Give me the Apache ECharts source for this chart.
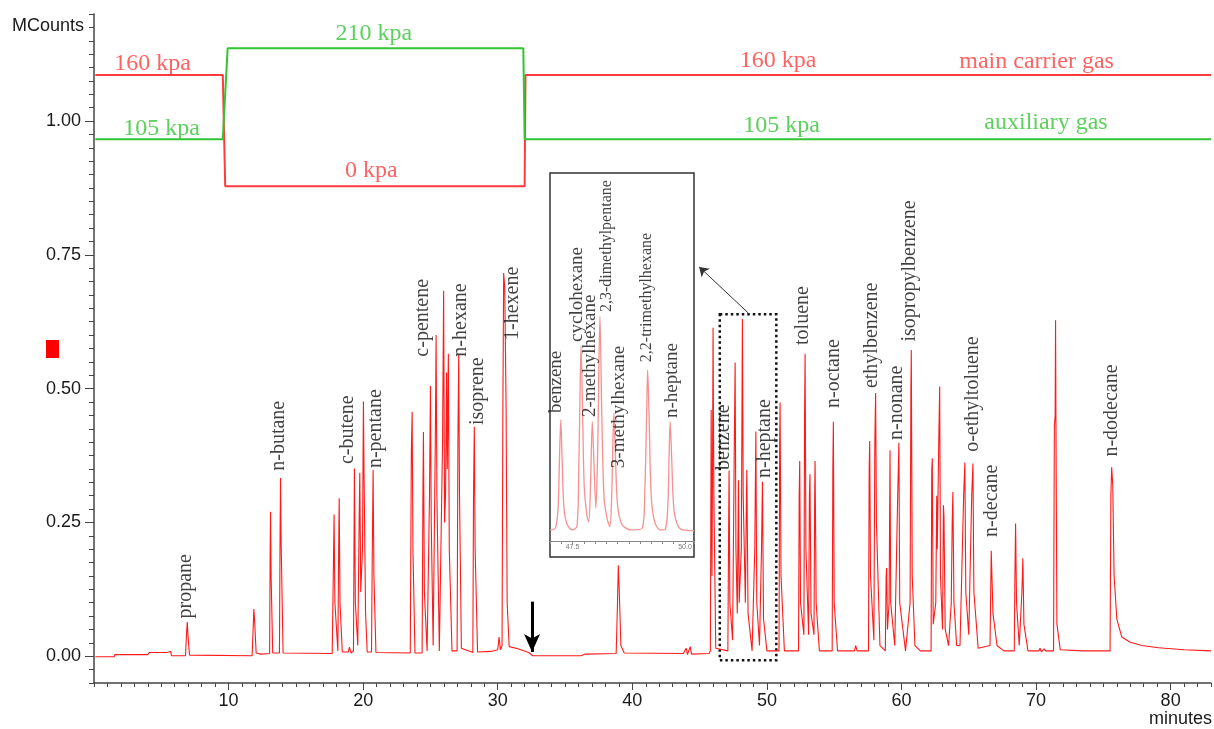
<!DOCTYPE html>
<html><head><meta charset="utf-8">
<script src="https://cdn.jsdelivr.net/npm/echarts@6/dist/echarts.min.js"></script>
<style>html,body{margin:0;padding:0;background:#fff}#c{width:1214px;height:729px}</style>
</head><body><div id="c"></div><script>
// ---- data ----
const xTickLabels = [10, 20, 30, 40, 50, 60, 70, 80];
const yTickLabels = [0, 0.25, 0.5, 0.75, 1.0];

// chromatogram trace [minutes, MCounts]
const chromatogram = [
 [0.1,-0.001],[1.5,-0.001],[1.55,0.003],[4.0,0.003],[4.1,0.007],[5.4,0.007],[5.5,0.009],[5.7,0.009],[5.75,0.001],
 [6.8,0.001],[6.88,0.045],[6.93,0.064],[6.98,0.04],[7.1,0.002],
 [11.75,0.001],[11.83,0.055],[11.88,0.088],[11.93,0.068],[12.05,0.006],
 [12.4,0.004],[13.05,0.005],[13.09,0.2],[13.12,0.27],[13.16,0.15],[13.28,0.006],
 [13.78,0.006],[13.82,0.2],[13.86,0.333],[13.9,0.22],[14.05,0.006],
 [17.7,0.005],[17.78,0.15],[17.84,0.265],[17.9,0.1],[18.12,0.01],[18.18,0.2],[18.22,0.295],[18.28,0.1],[18.45,0.008],
 [18.9,0.008],[18.98,0.017],[19.1,0.006],[19.28,0.01],[19.35,0.351],[19.42,0.1],[19.6,0.02],[19.7,0.25],[19.75,0.343],[19.82,0.12],[19.95,0.2],[20.02,0.476],[20.07,0.33],[20.18,0.08],[20.3,0.008],
 [20.62,0.008],[20.68,0.2],[20.74,0.348],[20.8,0.15],[20.95,0.007],
 [23.5,0.006],[23.58,0.38],[23.64,0.457],[23.7,0.2],[23.85,0.006],
 [24.38,0.006],[24.44,0.3],[24.48,0.419],[24.55,0.12],[24.75,0.01],
 [24.93,0.3],[25.0,0.505],[25.06,0.25],[25.2,0.02],[25.36,0.4],[25.42,0.6],[25.48,0.3],[25.66,0.01],
 [25.9,0.4],[25.98,0.683],[26.05,0.25],[26.12,0.3],[26.2,0.53],[26.25,0.35],[26.33,0.565],[26.4,0.2],[26.6,0.01],
 [26.98,0.01],[27.04,0.4],[27.1,0.564],[27.16,0.3],[27.3,0.015],
 [28.15,0.007],[28.2,0.3],[28.26,0.429],[28.32,0.2],[28.5,0.008],
 [29.5,0.009],[30.0,0.012],[30.1,0.036],[30.2,0.012],[30.32,0.02],[30.38,0.45],[30.44,0.716],[30.52,0.69],[30.62,0.47],[30.7,0.1],[30.85,0.018],
 [31.5,0.014],[32.3,0.007],[32.6,0.001],[36.2,0.001],[36.5,0.004],[38.8,0.005],[38.9,0.1],[38.96,0.17],[39.02,0.13],[39.15,0.02],[39.4,0.006],
 [43.8,0.005],[44.0,0.015],[44.1,0.003],[44.3,0.018],[44.4,0.004],[45.7,0.005],
 [45.8,0.01],[45.86,0.46],[45.92,0.15],[45.96,0.35],[46.0,0.614],[46.06,0.3],[46.2,0.015],
 [47.1,0.01],[47.16,0.25],[47.19,0.347],[47.25,0.1],[47.45,0.03],[47.58,0.4],[47.64,0.549],[47.7,0.2],[47.8,0.08],[47.86,0.25],[47.89,0.329],[47.94,0.1],[48.1,0.2],[48.18,0.63],[48.24,0.3],[48.4,0.1],[48.48,0.3],[48.51,0.348],[48.6,0.08],[48.9,0.01],
 [49.1,0.2],[49.18,0.42],[49.25,0.1],[49.45,0.02],[49.6,0.2],[49.67,0.326],[49.75,0.07],[50.0,0.01],
 [50.9,0.01],[50.95,0.4],[50.98,0.474],[51.05,0.15],[51.3,0.01],
 [52.35,0.01],[52.4,0.3],[52.44,0.365],[52.5,0.1],[52.75,0.04],[52.8,0.45],[52.84,0.565],[52.9,0.2],[53.1,0.04],[53.16,0.3],[53.2,0.34],[53.28,0.08],[53.5,0.04],[53.55,0.3],[53.58,0.365],[53.66,0.1],[53.9,0.01],
 [54.85,0.01],[54.9,0.35],[54.94,0.438],[55.0,0.1],[55.25,0.01],[56.5,0.01],[56.6,0.02],[56.7,0.01],[57.3,0.01],
 [57.55,0.01],[57.6,0.35],[57.64,0.402],[57.7,0.15],[57.95,0.03],[58.02,0.4],[58.08,0.492],[58.14,0.25],[58.4,0.02],
 [58.8,0.01],[58.86,0.15],[58.9,0.165],[58.96,0.05],[59.08,0.1],[59.15,0.385],[59.2,0.1],[59.5,0.02],[59.72,0.3],[59.81,0.399],[59.87,0.1],[60.3,0.01],
 [60.64,0.1],[60.7,0.5],[60.73,0.572],[60.8,0.15],[61.0,0.02],[61.4,0.01],
 [62.2,0.01],[62.25,0.35],[62.29,0.37],[62.36,0.06],[62.55,0.1],[62.62,0.3],[62.66,0.2],[62.77,0.4],[62.84,0.504],[62.9,0.15],[63.05,0.05],[63.12,0.282],[63.16,0.26],[63.25,0.05],[63.5,0.02],
 [63.7,0.1],[63.77,0.25],[63.82,0.307],[63.9,0.1],[64.1,0.02],[64.35,0.02],[64.62,0.3],[64.71,0.362],[64.78,0.12],[65.0,0.04],[65.22,0.3],[65.31,0.36],[65.38,0.12],[65.7,0.015],
 [66.58,0.02],[66.67,0.197],[66.8,0.08],[67.1,0.02],[67.6,0.01],
 [68.38,0.01],[68.43,0.15],[68.48,0.248],[68.55,0.1],[68.75,0.02],[68.95,0.12],[69.02,0.183],[69.1,0.06],[69.4,0.01],
 [70.2,0.01],[70.3,0.015],[70.4,0.008],[70.6,0.014],[70.7,0.01],
 [71.3,0.01],[71.36,0.43],[71.42,0.45],[71.45,0.628],[71.48,0.43],[71.55,0.06],[71.8,0.012],
 [73.5,0.01],[75.5,0.01],[75.56,0.3],[75.62,0.353],[75.7,0.32],[75.8,0.15],[76.0,0.07],[76.37,0.036],[77.0,0.026],[77.86,0.02],[79.1,0.016],[81,0.012],[83,0.01]
];

// pressure programs (drawn on the same scale)
const carrierGas = [[0.1,1.086],[9.57,1.086],[9.75,0.878],[32.0,0.878],[32.06,1.086],[83,1.086]];
const auxiliaryGas = [[0.1,0.966],[9.57,0.966],[9.93,1.136],[31.9,1.136],[32.0,0.966],[83,0.966]];
const carrierLabelText = ['160 kpa','0 kpa','160 kpa','main carrier gas'];
const carrierLabelTime = [4.36, 20.6, 50.83, 70.04];
const carrierLabelLevel = [1.108, 0.9065, 1.112, 1.110];
const auxLabelText = ['105 kpa','210 kpa','105 kpa','auxiliary gas'];
const auxLabelTime = [5.03, 20.8, 51.1, 70.74];
const auxLabelLevel = [0.986, 1.163, 0.991, 0.997];

// compound labels
const compoundNames = ['propane','n-butane','c-butene','n-pentane','c-pentene','n-hexane','isoprene','1-hexene','benzene','n-heptane','toluene','n-octane','ethylbenzene','n-nonane','isopropylbenzene','o-ethyltoluene','n-decane','n-dodecane'];
const compoundLabelTime = [6.83,13.76,18.83,20.94,24.45,27.25,28.49,31.08,46.8,49.84,52.69,54.97,57.81,59.67,60.65,65.31,66.72,75.63];
const compoundLabelSignal = [0.0705,0.3466,0.359,0.3516,0.5598,0.5598,0.432,0.591,0.348,0.333,0.5816,0.4638,0.501,0.404,0.588,0.382,0.223,0.373];

// zoomed inset (47.0 - 50.2 min), relative signal
const insetTrace = [
 [47.0,0.03],[47.12,0.035],[47.18,0.09],[47.21,0.22],[47.24,0.33],[47.27,0.22],[47.31,0.09],[47.38,0.045],[47.5,0.03],
 [47.6,0.04],[47.64,0.2],[47.67,0.42],[47.69,0.53],[47.72,0.38],[47.76,0.15],[47.82,0.07],[47.86,0.052],[47.9,0.15],[47.94,0.324],
 [47.98,0.2],[48.02,0.09],[48.06,0.25],[48.11,0.61],[48.15,0.35],[48.2,0.12],[48.27,0.06],[48.33,0.039],[48.37,0.12],[48.4,0.28],
 [48.42,0.347],[48.45,0.25],[48.5,0.1],[48.6,0.045],[48.8,0.03],[49.05,0.035],[49.11,0.15],[49.15,0.36],[49.17,0.465],[49.2,0.35],
 [49.25,0.12],[49.33,0.05],[49.45,0.03],[49.56,0.032],[49.62,0.1],[49.65,0.25],[49.67,0.324],[49.7,0.24],[49.75,0.09],[49.83,0.045],
 [49.95,0.03],[50.2,0.028]
];
const insetNames = ['benzene','cyclohexane','2-methylhexane','2,3-dimethylpentane','3-methylhexane','2,2-trimethylhexane','n-heptane'];
const insetLabelTime = [47.13,47.61,47.9,48.27,48.54,49.16,49.72];
const insetLabelSignal = [0.348,0.541,0.337,0.622,0.198,0.486,0.334];

// annotation geometry in data units
const zoomBoxTime = [46.5, 50.7];
const zoomBoxSignal = [-0.0075, 0.639];
const pointerFrom = [48.63, 0.641], pointerTo = [44.97, 0.7275];
const switchArrowFrom = [32.55, 0.102], switchArrowTo = [32.55, 0.008];

// ---- chart ----
const SERIF = '"Liberation Serif","Times New Roman",serif';
const SANS = '"Liberation Sans",Arial,sans-serif';
const RED = '#ff3b3b', GREEN = '#33c433';

function pts(ts, vs, names, filter){
  const out = [];
  ts.forEach((t,i)=>{ if (!filter || filter(names[i])) out.push({value:[t, vs[i]], name:names[i]}); });
  return out;
}
const isLongName = n => n.indexOf(',') >= 0;

const labelSeries = (xi, yi, data, size) => ({
  type:'scatter', xAxisIndex:xi, yAxisIndex:yi, data,
  symbolSize:0.1, itemStyle:{color:'rgba(0,0,0,0)'}, silent:true, z:5,
  label:{show:true, position:'inside', formatter:'{b}', color:'#111', fontFamily:SERIF, fontSize:size, rotate:90, align:'left', verticalAlign:'middle'}
});

const chart = echarts.init(document.getElementById('c'), null, {renderer:'canvas'});
const option = {
  animation: false,
  backgroundColor: '#fff',
  grid: [
    {left: 94, right: 2, top: 14, bottom: 46},
    {left: 550, top: 173, width: 144, height: 368}
  ],
  xAxis: [
    {type:'value', gridIndex:0, min:0, max:83, interval:1,
     axisLine:{onZero:false, lineStyle:{color:'#444', width:1.5}},
     axisTick:{length:4, lineStyle:{color:'#444'}},
     axisLabel:{fontFamily:SANS, fontSize:18, color:'#1a1a1a', margin:9,
       formatter: v => (xTickLabels.indexOf(Math.round(v))>=0 && Math.abs(v-Math.round(v))<1e-6) ? String(Math.round(v)) : ''},
     splitLine:{show:false}},
    {type:'value', gridIndex:0, min:0, max:83, position:'bottom',
     axisLine:{show:false, onZero:false}, axisLabel:{show:false}, splitLine:{show:false},
     axisTick:{show:true, length:7, customValues: xTickLabels, lineStyle:{color:'#444'}}},
    {type:'value', gridIndex:1, min:47, max:50.2, interval:0.25,
     axisLine:{onZero:false, lineStyle:{color:'#888', width:1}},
     axisTick:{length:3, lineStyle:{color:'#888'}},
     axisLabel:{fontFamily:SANS, fontSize:7, color:'#777', margin:3,
       formatter: v => Math.abs(v-47.5)<1e-6 ? '47.5' : (Math.abs(v-50)<1e-6 ? '50.0' : '')},
     splitLine:{show:false}}
  ],
  yAxis: [
    {type:'value', gridIndex:0, min:-0.05, max:1.2, interval:0.025, position:'left',
     axisLine:{onZero:false, lineStyle:{color:'#444', width:1.5}},
     axisTick:{length:5, lineStyle:{color:'#444'}},
     axisLabel:{fontFamily:SANS, fontSize:18, color:'#1a1a1a', margin:13,
       formatter: v => { for (const y of yTickLabels) if (Math.abs(v-y)<1e-6) return y.toFixed(2); return ''; }},
     splitLine:{show:false}},
    {type:'value', gridIndex:0, min:-0.05, max:1.2, position:'left', offset:0,
     axisLine:{show:false, onZero:false}, axisLabel:{show:false}, splitLine:{show:false},
     axisTick:{show:true, length:9, customValues: yTickLabels, lineStyle:{color:'#444'}}},
    {type:'value', gridIndex:1, min:0, max:1, show:false}
  ],
  series: [
    {type:'line', name:'main carrier gas', xAxisIndex:0, yAxisIndex:0, data:carrierGas, symbol:'none',
     lineStyle:{color:RED, width:2}, z:2, silent:true},
    {type:'line', name:'auxiliary gas', xAxisIndex:0, yAxisIndex:0, data:auxiliaryGas, symbol:'none',
     lineStyle:{color:GREEN, width:2}, z:2, silent:true},
    {type:'line', name:'signal', xAxisIndex:0, yAxisIndex:0, data:chromatogram, symbol:'none', sampling:'none',
     lineStyle:{color:'#ff1a1a', width:1.1}, z:3, silent:true,
     markArea:{silent:true, itemStyle:{color:'rgba(0,0,0,0)', borderColor:'#111', borderWidth:2.5, borderType:[2.5,3]},
       data:[[{coord:[zoomBoxTime[0], zoomBoxSignal[1]]},{coord:[zoomBoxTime[1], zoomBoxSignal[0]]}]]},
     markLine:{silent:true, animation:false, label:{show:false},
       data:[
         [{coord:pointerFrom, symbol:'none', lineStyle:{color:'#333', width:1, type:'solid'}},{coord:pointerTo, symbol:'arrow', symbolSize:9}],
         [{coord:switchArrowFrom, symbol:'none', lineStyle:{color:'#000', width:3, type:'solid'}},{coord:switchArrowTo, symbol:'arrow', symbolSize:[12,18]}]
       ]}},
    {type:'scatter', xAxisIndex:0, yAxisIndex:0, data:pts(carrierLabelTime, carrierLabelLevel, carrierLabelText),
     symbolSize:0.1, itemStyle:{color:'rgba(0,0,0,0)'}, silent:true, z:5,
     label:{show:true, position:'inside', formatter:'{b}', color:RED, fontFamily:SERIF, fontSize:24, align:'center', verticalAlign:'middle'}},
    {type:'scatter', xAxisIndex:0, yAxisIndex:0, data:pts(auxLabelTime, auxLabelLevel, auxLabelText),
     symbolSize:0.1, itemStyle:{color:'rgba(0,0,0,0)'}, silent:true, z:5,
     label:{show:true, position:'inside', formatter:'{b}', color:GREEN, fontFamily:SERIF, fontSize:24, align:'center', verticalAlign:'middle'}},
    labelSeries(0, 0, pts(compoundLabelTime, compoundLabelSignal, compoundNames), 20),
    {type:'line', name:'inset', xAxisIndex:2, yAxisIndex:2, data:insetTrace, symbol:'none', smooth:0.3,
     lineStyle:{color:'#f79090', width:1.3}, z:3, silent:true},
    labelSeries(2, 2, pts(insetLabelTime, insetLabelSignal, insetNames, n => !isLongName(n)), 19),
    labelSeries(2, 2, pts(insetLabelTime, insetLabelSignal, insetNames, isLongName), 16)
  ],
  graphic: [
    {type:'rect', shape:{x:550, y:173, width:144, height:384}, style:{fill:'none', stroke:'#333', lineWidth:1.5}, silent:true},
    {type:'rect', shape:{x:46, y:340, width:13, height:18}, style:{fill:'#ff0000'}, silent:true},
    {type:'text', x:12, y:26, style:{text:'MCounts', fontFamily:SANS, fontSize:18, fill:'#1a1a1a', align:'left', verticalAlign:'middle'}, silent:true},
    {type:'text', x:1149, y:719, style:{text:'minutes', fontFamily:SANS, fontSize:18, fill:'#1a1a1a', align:'left', verticalAlign:'middle'}, silent:true}
  ]
};
chart.setOption(option);
</script></body></html>
